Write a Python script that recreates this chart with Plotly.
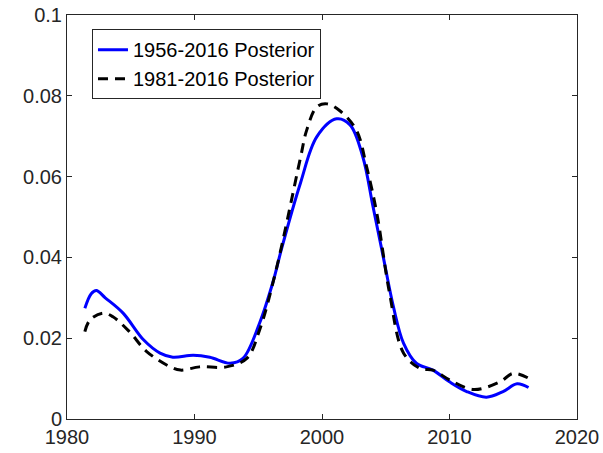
import plotly.graph_objects as go

# Blue: 1956-2016 posterior
years_a = [1981.4, 1981.9, 1982.3, 1983.0, 1984.4, 1986.0, 1987.3, 1988.3, 1989.9, 1991.2,
           1992.8, 1993.8, 1995.1, 1996.2, 1996.8, 1998.3, 1999.6, 2001.15, 2002.2, 2003.2,
           2004.0, 2004.8, 2005.6, 2006.4, 2007.4, 2008.7, 2010.0, 2011.35, 2012.9, 2014.2,
           2015.3, 2016.2]
vals_a = [0.0274, 0.0310, 0.0318, 0.0300, 0.0262, 0.0196, 0.0163, 0.0153, 0.0158, 0.0153,
          0.0138, 0.0150, 0.0237, 0.0344, 0.0418, 0.0583, 0.0699, 0.0743, 0.0728, 0.0649,
          0.0526, 0.0402, 0.0278, 0.0187, 0.0138, 0.0121, 0.0092, 0.0068, 0.0054, 0.0068,
          0.0087, 0.0078]

# Black dashed: 1981-2016 posterior
years_b = [1981.4, 1981.8, 1982.85, 1983.6, 1984.9, 1986.25, 1988.1, 1988.9, 1990.4, 1992.5,
           1994.1, 1995.1, 1996.4, 1998.3, 1998.8, 1999.6, 2000.4, 2001.4, 2002.7, 2003.5,
           2004.3, 2005.3, 2006.4, 2007.7, 2008.7, 2010.0, 2011.9, 2013.96, 2015.0, 2016.2]
vals_b = [0.0216, 0.0245, 0.0262, 0.0253, 0.0216, 0.0167, 0.0129, 0.0121, 0.0129, 0.0129,
          0.0150, 0.0220, 0.0369, 0.0645, 0.0715, 0.0773, 0.0780, 0.0763, 0.0715, 0.0624,
          0.0509, 0.0311, 0.0163, 0.0125, 0.0121, 0.0097, 0.0073, 0.0092, 0.0113, 0.0101]

x_ticks = [1980, 1990, 2000, 2010, 2020]
y_ticks = [0, 0.02, 0.04, 0.06, 0.08, 0.1]
y_tick_labels = ["0", "0.02", "0.04", "0.06", "0.08", "0.1"]

fig = go.Figure()
fig.add_trace(go.Scatter(x=years_a, y=vals_a, mode="lines", name="1956-2016 Posterior",
                         line=dict(color="#0000ff", width=3, shape="spline", smoothing=1.0)))
fig.add_trace(go.Scatter(x=years_b, y=vals_b, mode="lines", name="1981-2016 Posterior",
                         line=dict(color="#000000", width=3, dash="10px,7px", shape="spline", smoothing=1.0)))

axis_common = dict(showgrid=False, zeroline=False, showline=True, linecolor="#262626", linewidth=1,
                   mirror="ticks", ticks="inside", ticklen=5, tickcolor="#262626", automargin=False,
                   ticklabeloverflow="allow",
                   tickfont=dict(family="Arial, Liberation Sans, sans-serif", size=20, color="#262626"))

fig.update_xaxes(range=[1980, 2020], tickvals=x_ticks, **axis_common)
fig.update_yaxes(range=[0, 0.1], tickvals=y_ticks, ticktext=y_tick_labels, **axis_common)

fig.update_layout(
    width=603, height=453,
    autosize=False,
    margin=dict(l=67, r=26, t=15, b=34, pad=0, autoexpand=False),
    paper_bgcolor="white", plot_bgcolor="white",
    legend=dict(x=0.049, y=0.965, xanchor="left", yanchor="top",
                bgcolor="white", bordercolor="#262626", borderwidth=1,
                font=dict(family="Arial, Liberation Sans, sans-serif", size=20, color="#000000"),
                itemwidth=30, tracegroupgap=0),
    showlegend=True,
)

fig.write_html("out.html", config={"displayModeBar": False},
               post_script="document.body.style.margin='0';document.body.style.overflow='hidden';")
